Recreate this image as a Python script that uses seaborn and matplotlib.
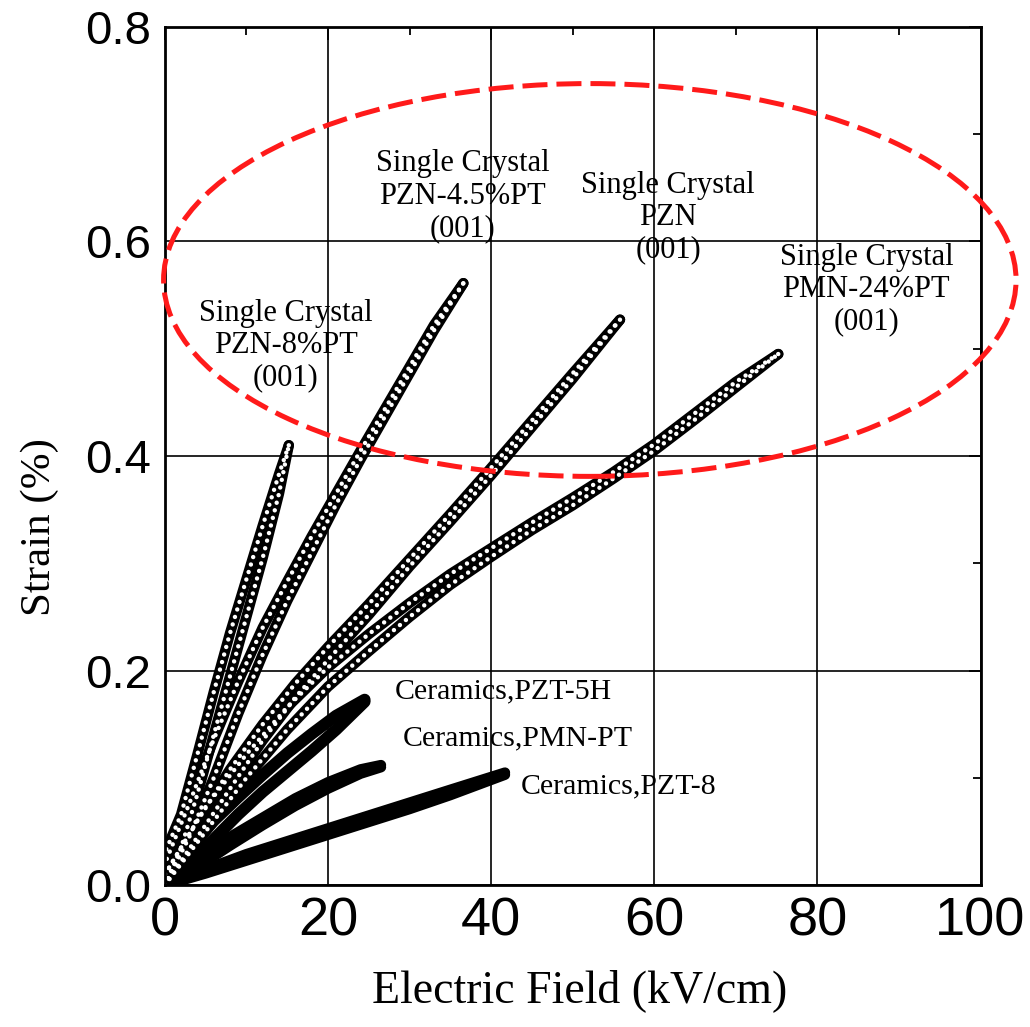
import numpy as np
import pandas as pd
import matplotlib
matplotlib.use("Agg")
import matplotlib.pyplot as plt
from matplotlib.patches import Ellipse
from matplotlib.ticker import MultipleLocator
import seaborn as sns

# ---- data: strain (%) vs electric field (kV/cm) ----
# each loop = rising branch + falling branch
pzn8_up_E = [0, 2, 4, 6, 8, 10, 12, 14, 15.2]
pzn8_up_S = [0, 0.035, 0.085, 0.14, 0.195, 0.25, 0.305, 0.365, 0.41]
pzn8_dn_E = [15.2, 14, 12, 10, 8, 6, 4, 2, 0]
pzn8_dn_S = [0.41, 0.383, 0.335, 0.285, 0.235, 0.18, 0.122, 0.066, 0.03]

pzn45_up_E = [0, 3, 6, 9, 12, 15, 18, 21, 24, 27, 30, 33, 36.6]
pzn45_up_S = [0, 0.045, 0.1, 0.16, 0.215, 0.265, 0.31, 0.355, 0.397, 0.437, 0.477, 0.517, 0.561]
pzn45_dn_E = [36.6, 33, 30, 27, 24, 21, 18, 15, 12, 9, 6, 3, 0]
pzn45_dn_S = [0.561, 0.522, 0.483, 0.444, 0.405, 0.365, 0.325, 0.283, 0.24, 0.19, 0.136, 0.076, 0.02]

pzn_up_E = [0, 4, 8, 12, 16, 20, 25, 30, 35, 40, 45, 50, 55.8]
pzn_up_S = [0, 0.045, 0.09, 0.135, 0.175, 0.21, 0.252, 0.297, 0.339, 0.382, 0.427, 0.472, 0.527]
pzn_dn_E = [55.8, 50, 45, 40, 35, 30, 25, 20, 16, 12, 8, 4, 0]
pzn_dn_S = [0.527, 0.477, 0.433, 0.389, 0.346, 0.304, 0.262, 0.222, 0.188, 0.15, 0.108, 0.06, 0.01]

pmn24_up_E = [0, 5, 10, 15, 20, 25, 30, 35, 40, 45, 50, 55, 60, 65, 70, 75.2]
pmn24_up_S = [0, 0.05, 0.1, 0.145, 0.185, 0.218, 0.25, 0.28, 0.306, 0.331, 0.354, 0.379, 0.405, 0.434, 0.464, 0.495]
pmn24_dn_E = [75.2, 70, 65, 60, 55, 50, 45, 40, 35, 30, 25, 20, 15, 10, 5, 0]
pmn24_dn_S = [0.495, 0.469, 0.44, 0.411, 0.385, 0.361, 0.338, 0.314, 0.29, 0.263, 0.234, 0.203, 0.166, 0.122, 0.073, 0.01]

pzt5h_up_E = [0, 3, 6, 9, 12, 15, 18, 21, 24.5]
pzt5h_up_S = [0, 0.02, 0.043, 0.066, 0.087, 0.106, 0.125, 0.145, 0.171]
pzt5h_dn_E = [24.5, 21, 18, 15, 12, 9, 6, 3, 0]
pzt5h_dn_S = [0.173, 0.158, 0.141, 0.123, 0.103, 0.082, 0.06, 0.034, 0.005]

pmnpt_up_E = [0, 4, 8, 12, 16, 20, 24, 26.5]
pmnpt_up_S = [0, 0.017, 0.037, 0.056, 0.074, 0.09, 0.104, 0.11]
pmnpt_dn_E = [26.5, 24, 20, 16, 12, 8, 4, 0]
pmnpt_dn_S = [0.112, 0.108, 0.096, 0.081, 0.063, 0.045, 0.025, 0.003]

pzt8_up_E = [0, 5, 10, 15, 20, 25, 30, 35, 41.7]
pzt8_up_S = [0, 0.011, 0.023, 0.035, 0.047, 0.059, 0.071, 0.084, 0.103]
pzt8_dn_E = [41.7, 35, 30, 25, 20, 15, 10, 5, 0]
pzt8_dn_S = [0.105, 0.089, 0.077, 0.065, 0.053, 0.041, 0.029, 0.015, 0.002]

crystal_loops = [
    (pzn8_up_E, pzn8_up_S), (pzn8_dn_E, pzn8_dn_S),
    (pzn45_up_E, pzn45_up_S), (pzn45_dn_E, pzn45_dn_S),
    (pzn_up_E, pzn_up_S), (pzn_dn_E, pzn_dn_S),
    (pmn24_up_E, pmn24_up_S), (pmn24_dn_E, pmn24_dn_S),
]
ceramic_loops = [
    (pzt5h_up_E, pzt5h_up_S), (pzt5h_dn_E, pzt5h_dn_S),
    (pmnpt_up_E, pmnpt_up_S), (pmnpt_dn_E, pmnpt_dn_S),
    (pzt8_up_E, pzt8_up_S), (pzt8_dn_E, pzt8_dn_S),
]
ceramic_widths = [8.5, 8.5, 7.5, 7.5, 7.5, 7.5]

crystal_labels = ["Single Crystal\nPZN-8%PT\n(001)",
                  "Single Crystal\nPZN-4.5%PT\n(001)",
                  "Single Crystal\nPZN\n(001)",
                  "Single Crystal\nPMN-24%PT\n(001)"]
crystal_label_E = [14.8, 36.5, 61.7, 86.0]
crystal_label_S = [0.503, 0.642, 0.622, 0.555]

ceramic_labels = ["Ceramics,PZT-5H", "Ceramics,PMN-PT", "Ceramics,PZT-8"]
ceramic_label_E = [28.2, 29.2, 43.6]
ceramic_label_S = [0.181, 0.137, 0.092]

xticks = [0, 20, 40, 60, 80, 100]
yticks = [0.0, 0.2, 0.4, 0.6, 0.8]

# ---- style ----
sns.set_style("white")
serif = ["Liberation Serif", "DejaVu Serif"]
sans = ["Liberation Sans", "DejaVu Sans"]
plt.rcParams["font.family"] = sans
plt.rcParams["text.color"] = "black"
plt.rcParams["axes.labelcolor"] = "black"
plt.rcParams["xtick.color"] = "black"
plt.rcParams["ytick.color"] = "black"

fig = plt.figure(figsize=(10.30, 10.27), dpi=100)
ax = fig.add_axes([0.160, 0.138, 0.792, 0.836])

# ceramics: solid black bands
for (E, S), lw in zip(ceramic_loops, ceramic_widths):
    sns.lineplot(x=E, y=S, sort=False, estimator=None, color="black",
                 linewidth=lw, solid_capstyle="round", ax=ax)

# single crystals: chains of open circles (black band + white dots)
for E, S in crystal_loops:
    sns.lineplot(x=E, y=S, sort=False, estimator=None, color="black",
                 linewidth=7.5, solid_capstyle="round", ax=ax)
for E, S in crystal_loops:
    sns.lineplot(x=E, y=S, sort=False, estimator=None, color="white",
                 linewidth=3.2, linestyle=(0, (0.01, 1.75)),
                 dash_capstyle="round", ax=ax)

# labels
for txt, x, y in zip(crystal_labels, crystal_label_E, crystal_label_S):
    ax.text(x, y, txt, family=serif, fontsize=22, ha="center", va="center",
            linespacing=1.15)
for txt, x, y in zip(ceramic_labels, ceramic_label_E, ceramic_label_S):
    ax.text(x, y, txt, family=serif, fontsize=21.5, ha="left", va="center")

# red dashed ellipse around the single crystal results
ell = Ellipse((52.1, 0.564), 104.5, 0.366, fill=False, edgecolor="#ff1a1a",
              linewidth=3.6, linestyle=(0, (5, 1.8)), clip_on=False, zorder=5)
ax.add_patch(ell)

# axes
ax.set_xlim(0, 100)
ax.set_ylim(0, 0.8)
ax.set_xticks(xticks)
ax.set_yticks(yticks)
ax.xaxis.set_minor_locator(MultipleLocator(10))
ax.yaxis.set_minor_locator(MultipleLocator(0.1))
ax.grid(True, which="major", color="black", linewidth=1.2)
ax.set_axisbelow(True)
ax.tick_params(which="both", direction="in", top=True, right=True,
               color="black", width=1.3)
ax.tick_params(which="major", length=9)
ax.tick_params(which="minor", length=6)
ax.tick_params(axis="x", labelsize=39, pad=8)
ax.tick_params(axis="y", labelsize=34, pad=10)
for s in ax.spines.values():
    s.set_color("black")
    s.set_linewidth(2.0)

ax.set_xlabel("Electric Field (kV/cm)", family=serif, fontsize=33, va="center")
ax.set_ylabel("Strain (%)", family=serif, fontsize=31, va="center")
ax.xaxis.set_label_coords(0.508, -0.1225)
ax.yaxis.set_label_coords(-0.153, 0.417)

fig.savefig("out.png", dpi=100)
